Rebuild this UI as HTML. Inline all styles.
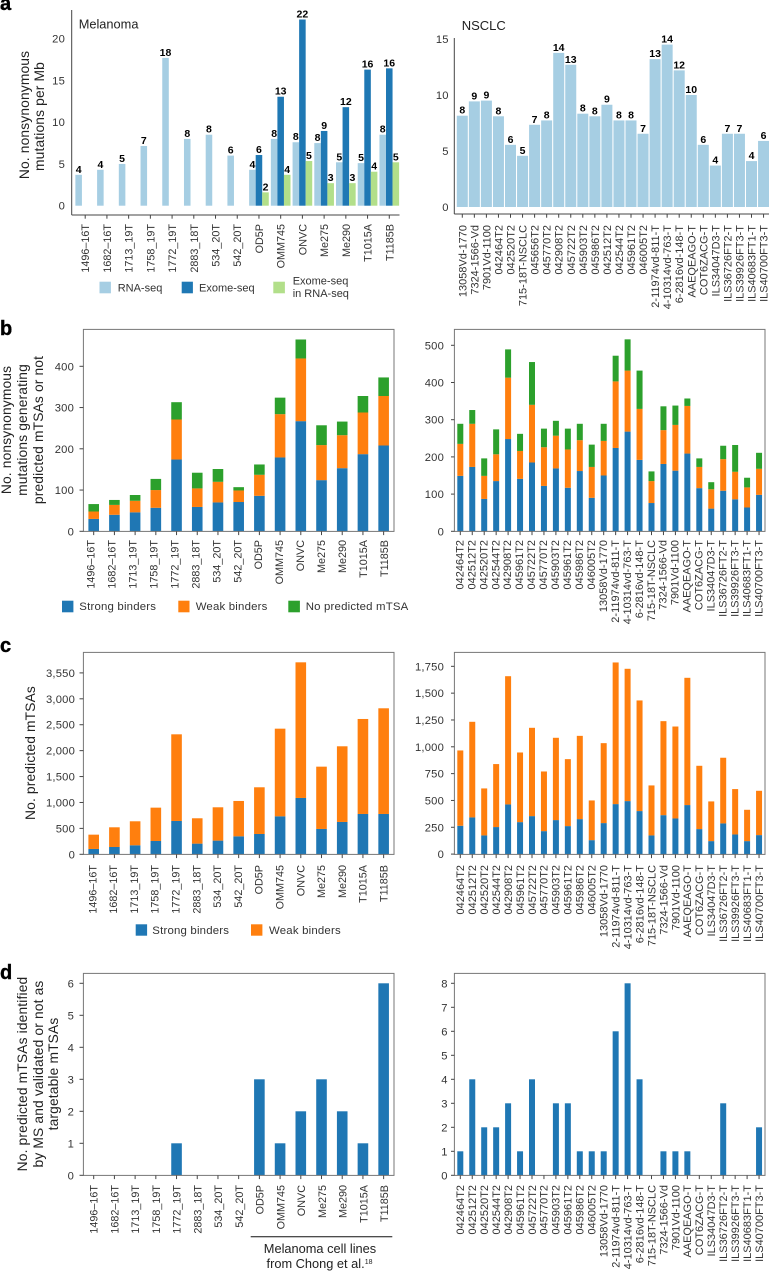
<!DOCTYPE html>
<html lang="en">
<head>
<meta charset="utf-8">
<title>Mutation and mTSA counts in melanoma and NSCLC</title>
<style>
html,body{margin:0;padding:0;background:#fff;}
svg{display:block;font-family:"Liberation Sans",sans-serif;}
.tick{font-size:11.2px;fill:#333;letter-spacing:.2px;}
.cat-left{font-size:10.8px;fill:#333;}
.cat-right{font-size:10.9px;fill:#333;letter-spacing:.05px;}
.title{font-size:13.8px;fill:#222;text-anchor:middle;letter-spacing:.15px;}
.leg{font-size:11.4px;fill:#333;letter-spacing:.2px;}
.leg-a{font-size:11px;fill:#333;}
.panel{font-size:20px;font-weight:bold;fill:#000;stroke:#000;stroke-width:.4px;}
.val{font-size:10.5px;font-weight:bold;fill:#000;text-anchor:middle;}
</style>
</head>
<body>
<svg id="figure" xmlns="http://www.w3.org/2000/svg" width="769" height="1271" viewBox="0 0 769 1271">
  <rect x="0" y="0" width="769" height="1271" fill="#fff"/>

  <text class="panel" x="0" y="10">a</text>
  <text class="panel" x="0" y="335">b</text>
  <text class="panel" x="0" y="652">c</text>
  <text class="panel" x="0" y="979">d</text>

  <text x="78.7" y="28.5" font-size="12.8" fill="#222">Melanoma</text>
  <text x="461.7" y="30" font-size="13" fill="#222">NSCLC</text>

  <g>
    <text class="title" transform="translate(29,115) rotate(-90)">No. nonsynonymous</text>
    <text class="title" transform="translate(44,116.5) rotate(-90)">mutations per Mb</text>
  </g>
  <g>
    <text class="title" transform="translate(11,430) rotate(-90)">No. nonsynonymous</text>
    <text class="title" transform="translate(27,430) rotate(-90)">mutations generating</text>
    <text class="title" transform="translate(43,430) rotate(-90)">predicted mTSAs or not</text>
  </g>
  <g>
    <text class="title" transform="translate(35,753) rotate(-90)">No. predicted mTSAs</text>
  </g>
  <g>
    <text class="title" transform="translate(27,1074) rotate(-90)">No. predicted mTSAs identified</text>
    <text class="title" transform="translate(43,1074) rotate(-90)">by MS and validated or not as</text>
    <text class="title" transform="translate(58,1074) rotate(-90)">targetable mTSAs</text>
  </g>

  <g>
    <rect x="99.5" y="281.7" width="11.4" height="11.6" fill="#a6cee3"/>
    <text class="leg-a" x="117.7" y="291.5">RNA-seq</text>
    <rect x="181.7" y="281.7" width="11.2" height="11.6" fill="#1f78b4"/>
    <text class="leg-a" x="199" y="291.5">Exome-seq</text>
    <rect x="273.3" y="281.7" width="11.6" height="11.6" fill="#b2df8a"/>
    <text class="leg-a" x="292.7" y="284.5">Exome-seq</text>
    <text class="leg-a" x="292.7" y="297">in RNA-seq</text>
  </g>

  <g>
    <rect x="62" y="600.7" width="11.4" height="11.6" fill="#1f77b4"/>
    <text class="leg" x="79.3" y="610">Strong binders</text>
    <rect x="178.3" y="600.7" width="11.2" height="11.6" fill="#ff7f0e"/>
    <text class="leg" x="195.7" y="610">Weak binders</text>
    <rect x="288.3" y="600.7" width="11.6" height="11.6" fill="#2ca02c"/>
    <text class="leg" x="305.7" y="610">No predicted mTSA</text>
  </g>

  <g>
    <rect x="135.7" y="924.3" width="11.4" height="11.4" fill="#1f77b4"/>
    <text class="leg" x="152.3" y="934">Strong binders</text>
    <rect x="251" y="924.3" width="11.4" height="11.4" fill="#ff7f0e"/>
    <text class="leg" x="269" y="934">Weak binders</text>
  </g>

  <g>
    <line x1="250.7" x2="392.3" y1="1236.7" y2="1236.7" stroke="#111" stroke-width="1"/>
    <text x="320" y="1253" font-size="12.8" fill="#222" text-anchor="middle">Melanoma cell lines</text>
    <text x="319.5" y="1268" font-size="12.8" fill="#222" text-anchor="middle">from Chong et al.<tspan font-size="7" dy="-4">18</tspan></text>
  </g>
</svg>

<script>
// ---- categories ----
const melanomaLines = ["1496–16T","1682–16T","1713_19T","1758_19T","1772_19T","2883_18T","534_20T","542_20T","OD5P","OMM745","ONVC","Me275","Me290","T1015A","T1185B"];
const nsclcLinesA = ["13058Vd-1770","7324-1566-Vd","7901Vd-1100","042464T2","042520T2","715-18T-NSCLC","045656T2","045770T2","042908T2","045722T2","045903T2","045986T2","042512T2","042544T2","045961T2","046005T2","2-11974vd-811-T","4-10314vd-763-T","6-2816vd-148-T","AAEQEAGO-T","COT6ZACG-T","ILS34047D3-T","ILS36726FT2-T","ILS39926FT3-T","ILS40683FT1-T","ILS40700FT3-T"];
const nsclcLines = ["042464T2","042512T2","042520T2","042544T2","042908T2","045961T2","045722T2","045770T2","045903T2","045961T2","045986T2","046005T2","13058Vd-1770","2-11974vd-811-T","4-10314vd-763-T","6-2816vd-148-T","715-18T-NSCLC","7324-1566-Vd","7901Vd-1100","AAEQEAGO-T","COT6ZACG-T","ILS34047D3-T","ILS36726FT2-T","ILS39926FT3-T","ILS40683FT1-T","ILS40700FT3-T"];

// ---- panel a, melanoma ----
const aRnaValues = [3.7,4.3,5.0,7.15,17.7,8.0,8.5,6.0,4.3,8.0,7.6,7.5,5.2,5.1,8.5];
const aExomeValues = [null,null,null,null,null,null,null,null,6.07,13.05,22.3,8.95,11.8,16.3,16.45];
const aOverlapValues = [null,null,null,null,null,null,null,null,1.6,3.7,5.35,2.7,2.7,4.07,5.2];
const aRnaPrinted = ["4","4","5","7","18","8","8","6","4","8","8","8","5","5","8"];
const aExomePrinted = ["","","","","","","","","6","13","22","9","12","16","16"];
const aOverlapPrinted = ["","","","","","","","","2","4","5","3","3","4","5"];
const aLeftTicks = [0,5,10,15,20];
const aLeftTickLabels = ["0","5","10","15","20"];

// ---- panel a, NSCLC ----
const aNsclcValues = [8.15,9.43,9.5,8.1,5.55,4.57,7.34,7.73,13.76,12.7,8.33,8.1,9.13,7.73,7.73,6.54,13.2,14.5,12.2,10.0,5.55,3.7,6.54,6.54,4.1,5.9];
const aNsclcPrinted = ["8","9","9","8","6","5","7","8","14","13","8","8","9","8","8","7","13","14","12","10","6","4","7","7","4","6"];
const aRightTicks = [0,5,10,15];
const aRightTickLabels = ["0","5","10","15"];

// ---- panel b ----
const bLeftStrong = [30,40,46,57,174,59,70,71,86,179,267,124,153,187,208];
const bLeftWeak = [18,24,28,43,97,45,50,28,51,105,152,85,80,101,120];
const bLeftNone = [18,12,14,27,42,38,31,8,25,40,46,48,33,40,45];
const bLeftTicks = [0,100,200,300,400];
const bLeftTickLabels = ["0","100","200","300","400"];
const bRightStrong = [149,173,87,135,248,141,185,122,169,117,162,90,150,224,268,192,76,181,163,209,116,61,109,86,64,98];
const bRightWeak = [86,116,62,72,165,75,155,104,88,103,83,83,93,179,164,137,59,91,123,128,57,52,85,74,54,70];
const bRightNone = [54,37,47,67,76,46,115,50,40,56,44,60,46,69,84,103,26,64,52,20,23,19,36,72,26,43];
const bRightTicks = [0,100,200,300,400,500];
const bRightTickLabels = ["0","100","200","300","400","500"];

// ---- panel c ----
const cLeftStrong = [103,141,174,257,643,206,264,347,392,733,1087,489,624,778,778];
const cLeftWeak = [276,380,463,643,1672,489,643,682,901,1691,2617,1202,1460,1833,2039];
const cLeftTicks = [0,500,1000,1500,2000,2500,3000,3500];
const cLeftTickLabels = ["0","500","1,000","1,500","2,000","2,500","3,000","3,550"];
const cRightStrong = [264,342,174,252,463,298,354,214,317,261,326,130,289,466,494,401,174,363,332,457,233,121,286,183,121,177];
const cRightWeak = [702,891,438,587,1195,649,823,556,767,624,776,370,745,1320,1233,1031,466,876,857,1186,590,370,612,423,292,413];
const cRightTicks = [0,250,500,750,1000,1250,1500,1750];
const cRightTickLabels = ["0","250","500","750","1,000","1,250","1,500","1,750"];

// ---- panel d ----
const dLeftValues = [0,0,0,0,1,0,0,0,3,1,2,3,2,1,6];
const dLeftTicks = [0,1,2,3,4,5,6];
const dLeftTickLabels = ["0","1","2","3","4","5","6"];
const dRightValues = [1,4,2,2,3,1,4,0,3,3,1,1,1,6,8,4,0,1,1,1,0,0,3,0,0,2];
const dRightTicks = [0,1,2,3,4,5,6,7,8];
const dRightTickLabels = ["0","1","2","3","4","5","6","7","8"];

// ---- axis functions and drawing ----
const NS = "http://www.w3.org/2000/svg";
const figure = document.getElementById("figure");
const linearX = (start, step) => i => start + i * step;
const linearY = (zero, perUnit) => v => zero - v * perUnit;

function svgNode(tag, parent, attrs) {
  const n = document.createElementNS(NS, tag);
  for (const k in attrs) n.setAttribute(k, attrs[k]);
  parent.appendChild(n);
  return n;
}

function makePanel(name) {
  const g = svgNode("g", figure, {});
  
  
  return g;
}

function drawFrame(g, left, right, top, bottom) {
  const frame = svgNode("rect", g, {x: left, y: top, width: right - left, height: bottom - top, fill: "none", stroke: "#777", "stroke-width": 1});
  
  
}

function drawYAxisLines(g, xLeft, xRight, top, bottom) {
  const yLine = svgNode("line", g, {x1: xLeft, x2: xLeft, y1: top, y2: bottom, stroke: "#444", "stroke-width": 1});
  
  
  const xLine = svgNode("line", g, {x1: xLeft, x2: xRight, y1: bottom, y2: bottom, stroke: "#444", "stroke-width": 1});
  
  
}

function drawYTicks(g, ticks, labels, y, labelEnd, markFrom, markTo) {
  ticks.forEach((t, i) => {
    const label = svgNode("text", g, {class: "tick", x: labelEnd, y: y(t) + 4, "text-anchor": "end"});
    label.textContent = labels[i];
    
    
    if (markFrom !== markTo) {
      const mark = svgNode("line", g, {x1: markFrom, x2: markTo, y1: y(t), y2: y(t), stroke: "#444", "stroke-width": 1});
      
      
    }
  });
}

function drawXTicks(g, cats, x, labelX, axisY, labelTop, labelClass) {
  cats.forEach((c, i) => {
    const mark = svgNode("line", g, {x1: x(i), x2: x(i), y1: axisY, y2: axisY + 3.7, stroke: "#444", "stroke-width": 1});
    
    
    const lx = labelX(i) + 4;
    const label = svgNode("text", g, {class: labelClass, transform: "translate(" + lx + "," + labelTop + ") rotate(-90)", "text-anchor": "end"});
    label.textContent = c;
    
    
  });
}

function drawPrinted(g, text, cx, barTop) {
  if (!text) return;
  const v = svgNode("text", g, {class: "val", x: cx, y: barTop - 2});
  v.textContent = text;
  
  
}

function drawSeries(g, values, printed, x, y, width, offset, color, seriesName) {
  values.forEach((v, i) => {
    if (v === null) return;
    const bar = svgNode("rect", g, {x: x(i) + offset - width / 2, y: y(v), width: width, height: Math.max(0, y(0) - y(v)), fill: color});
    
    
    if (printed) drawPrinted(g, printed[i], x(i) + offset, y(v));
  });
}

function drawStack(g, series, x, y, width) {
  const cum = series[0].values.map(() => 0);
  series.forEach(s => {
    s.values.forEach((v, i) => {
      const bar = svgNode("rect", g, {x: x(i) - width / 2, y: y(cum[i] + v), width: width, height: y(cum[i]) - y(cum[i] + v), fill: s.color});
      
      
      cum[i] += v;
    });
  });
}

const BLUE = "#1f77b4", ORANGE = "#ff7f0e", GREEN = "#2ca02c";

// a-left
(function () {
  const g = makePanel("melanoma-mutation-chart");
  const x = linearX(85.2, 21.72), y = linearY(205.7, 8.35), w = 6.55;
  drawSeries(g, aRnaValues, aRnaPrinted, x, y, w, -w, "#a6cee3", "rna-seq");
  drawSeries(g, aExomeValues, aExomePrinted, x, y, w, 0, "#1f78b4", "exome-seq");
  drawSeries(g, aOverlapValues, aOverlapPrinted, x, y, w, w, "#b2df8a", "exome-in-rna-seq");
  drawYAxisLines(g, 71.7, 399.5, 10, 215);
  drawYTicks(g, aLeftTicks, aLeftTickLabels, y, 65, 0, 0);
  drawXTicks(g, melanomaLines, x, x, 215, 224, "cat-left");
})();

// a-right
(function () {
  const g = makePanel("nsclc-mutation-chart");
  const x = linearX(462.3, 12.05), y = linearY(207, 11.2);
  drawSeries(g, aNsclcValues, aNsclcPrinted, x, y, 11, 0, "#a6cee3", "rna-seq");
  drawYAxisLines(g, 454.3, 769, 38, 214);
  drawYTicks(g, aRightTicks, aRightTickLabels, y, 448.7, 0, 0);
  drawXTicks(g, nsclcLinesA, x, x, 214, 225, "cat-right");
})();

// b-left
(function () {
  const g = makePanel("melanoma-nonsynonymous-chart");
  const x = linearX(93.7, 20.71), y = linearY(531.3, 0.4125), lx = linearX(90.6, 20.95);
  drawStack(g, [{name: "strong-binders", color: BLUE, values: bLeftStrong}, {name: "weak-binders", color: ORANGE, values: bLeftWeak}, {name: "no-predicted-mtsa", color: GREEN, values: bLeftNone}], x, y, 10.6);
  drawFrame(g, 83.4, 394, 329.4, 531.4);
  drawYTicks(g, bLeftTicks, bLeftTickLabels, y, 74, 79.5, 83.4);
  drawXTicks(g, melanomaLines, x, lx, 531.4, 540, "cat-left");
})();

// b-right
(function () {
  const g = makePanel("nsclc-nonsynonymous-chart");
  const x = linearX(460.3, 11.95), y = linearY(531.3, 0.372), lx = linearX(459.4, 11.96);
  drawStack(g, [{name: "strong-binders", color: BLUE, values: bRightStrong}, {name: "weak-binders", color: ORANGE, values: bRightWeak}, {name: "no-predicted-mtsa", color: GREEN, values: bRightNone}], x, y, 6);
  drawFrame(g, 454.4, 765, 329.4, 531.4);
  drawYTicks(g, bRightTicks, bRightTickLabels, y, 444, 451, 454.4);
  drawXTicks(g, nsclcLines, x, lx, 531.4, 540, "cat-right");
})();

// c-left
(function () {
  const g = makePanel("melanoma-predicted-mtsa-chart");
  const x = linearX(93.7, 20.71), y = linearY(854.3, 0.05183), lx = linearX(92.3, 20.8);
  drawStack(g, [{name: "strong-binders", color: BLUE, values: cLeftStrong}, {name: "weak-binders", color: ORANGE, values: cLeftWeak}], x, y, 10.6);
  drawFrame(g, 83.4, 394, 652.4, 854.4);
  drawYTicks(g, cLeftTicks, cLeftTickLabels, y, 75, 79.5, 83.4);
  drawXTicks(g, melanomaLines, x, lx, 854.4, 865, "cat-left");
})();

// c-right
(function () {
  const g = makePanel("nsclc-predicted-mtsa-chart");
  const x = linearX(460.3, 11.95), y = linearY(854.1, 0.1073), lx = linearX(460, 11.96);
  drawStack(g, [{name: "strong-binders", color: BLUE, values: cRightStrong}, {name: "weak-binders", color: ORANGE, values: cRightWeak}], x, y, 6);
  drawFrame(g, 454.4, 765, 652.4, 854.4);
  drawYTicks(g, cRightTicks, cRightTickLabels, y, 444, 451, 454.4);
  drawXTicks(g, nsclcLines, x, lx, 854.4, 865, "cat-right");
})();

// d-left
(function () {
  const g = makePanel("melanoma-validated-mtsa-chart");
  const x = linearX(93.7, 20.71), y = linearY(1175.3, 32), lx = linearX(93.7, 20.74);
  drawSeries(g, dLeftValues, null, x, y, 10.6, 0, BLUE, "validated-mtsa");
  drawFrame(g, 83.4, 394, 973.4, 1175.4);
  drawYTicks(g, dLeftTicks, dLeftTickLabels, y, 74, 79.5, 83.4);
  drawXTicks(g, melanomaLines, x, lx, 1175.4, 1185, "cat-left");
})();

// d-right
(function () {
  const g = makePanel("nsclc-validated-mtsa-chart");
  const x = linearX(460.3, 11.95), y = linearY(1175.3, 24), lx = linearX(460, 11.96);
  drawSeries(g, dRightValues, null, x, y, 6, 0, BLUE, "validated-mtsa");
  drawFrame(g, 454.4, 765, 973.4, 1175.4);
  drawYTicks(g, dRightTicks, dRightTickLabels, y, 447.7, 451, 454.4);
  drawXTicks(g, nsclcLines, x, lx, 1175.4, 1185, "cat-right");
})();
</script>
</body>
</html>
